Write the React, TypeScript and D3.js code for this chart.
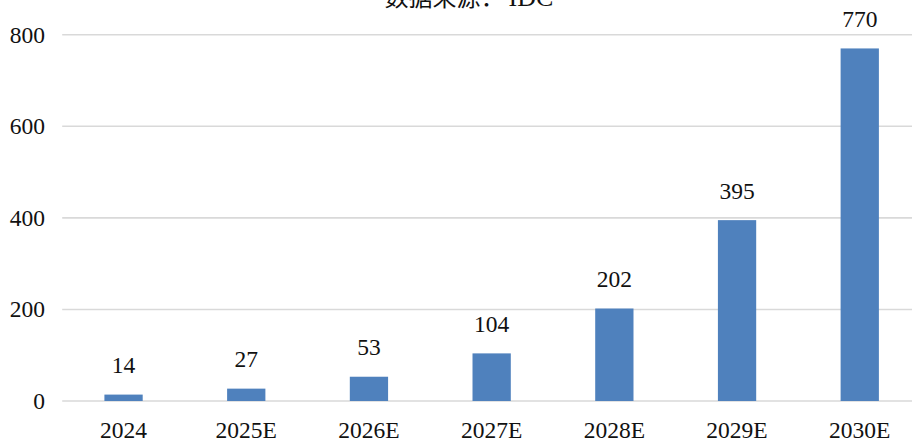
import React from "react";
import * as d3 from "d3";

const categories = ["2024", "2025E", "2026E", "2027E", "2028E", "2029E", "2030E"];
const values = [14, 27, 53, 104, 202, 395, 770];
const yTicks = [0, 200, 400, 600, 800];
const title = "数据来源：";
const titleSource = "IDC";

const W = 912;
const H = 441;
const margin = { left: 62.2, top: 34.7, bottom: 40 };
const bandW = 122.7;

const serif = "Liberation Serif, Times New Roman, DejaVu Serif, serif";

export default function App() {
  const x = d3
    .scaleBand<string>()
    .domain(categories)
    .range([margin.left, margin.left + bandW * categories.length])
    .paddingInner(0.688)
    .paddingOuter(0.344);
  const y = d3.scaleLinear().domain([0, 800]).range([H - margin.bottom, margin.top]);
  const right = margin.left + bandW * categories.length;
  const txt = { fontFamily: serif, fill: "#111" } as React.CSSProperties;

  return (
    <svg
      width={W}
      height={H}
      style={{ position: "fixed", left: 0, top: 0, background: "#fff" }}
    >
      <rect width={W} height={H} fill="#fff" />
      <text x={469} y={6} textAnchor="middle" fontSize={24} style={txt}>
        <tspan style={{ fontFamily: "Noto Sans CJK SC, sans-serif" }}>{title}</tspan>
        <tspan dx={4} fontSize={26}>{titleSource}</tspan>
      </text>
      {yTicks.map((t) => (
        <g key={t}>
          <line x1={margin.left} x2={right} y1={y(t)} y2={y(t)} stroke="#d9d9d9" strokeWidth={1.6} />
          <text x={45} y={y(t) + 7.8} textAnchor="end" fontSize={23.5} style={txt}>
            {t}
          </text>
        </g>
      ))}
      {categories.map((c, i) => (
        <g key={c}>
          <rect
            x={x(c)}
            y={y(values[i])}
            width={x.bandwidth()}
            height={y(0) - y(values[i])}
            fill="#4f81bd"
          />
          <text
            x={(x(c) as number) + x.bandwidth() / 2}
            y={y(values[i]) - 21.5}
            textAnchor="middle"
            fontSize={23.5}
            style={txt}
          >
            {values[i]}
          </text>
          <text
            x={(x(c) as number) + x.bandwidth() / 2}
            y={437.5}
            textAnchor="middle"
            fontSize={23.5}
            style={txt}
          >
            {c}
          </text>
        </g>
      ))}
    </svg>
  );
}
